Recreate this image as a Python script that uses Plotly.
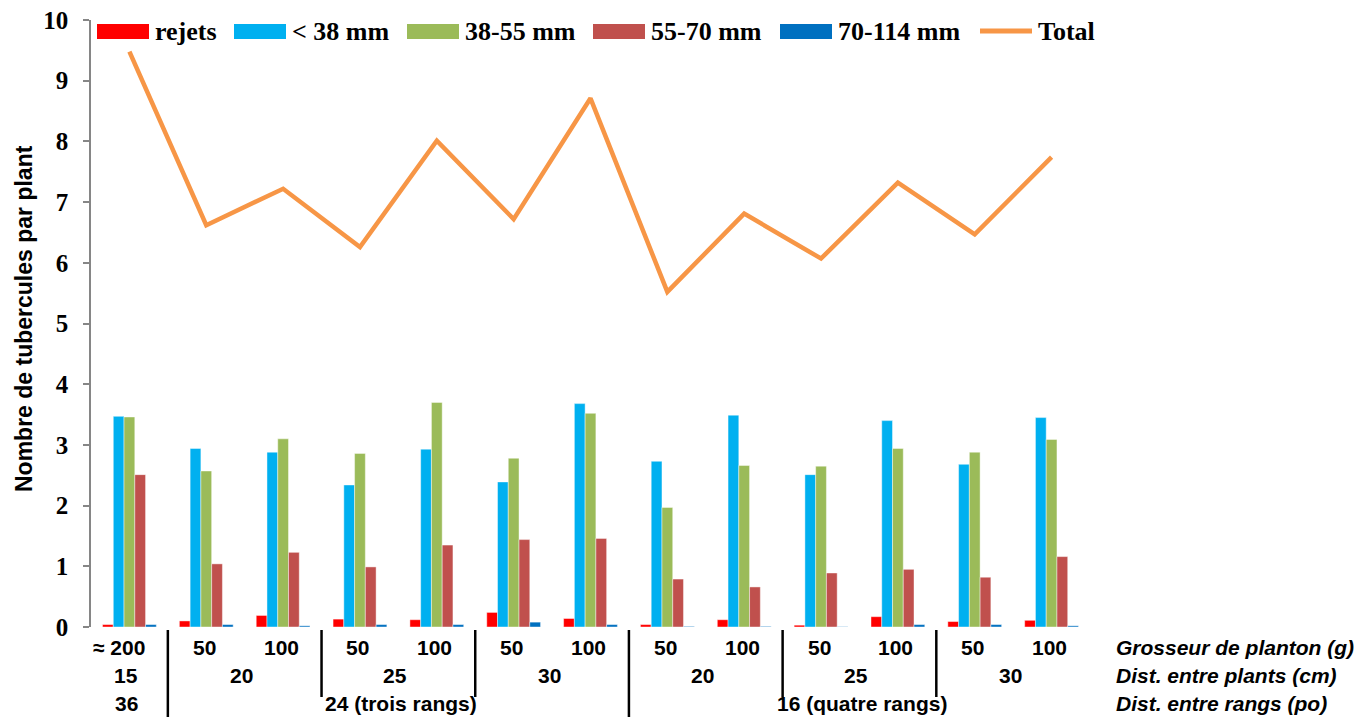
import plotly.graph_objects as go

# ---------------- data ----------------
planton = ["≈ 200", "50", "100", "50", "100", "50", "100", "50", "100", "50", "100", "50", "100"]
plants_labels = ["15", "20", "25", "30", "20", "25", "30"]
plants_spans = [(0, 0), (1, 2), (3, 4), (5, 6), (7, 8), (9, 10), (11, 12)]
rangs_labels = ["36", "24 (trois rangs)", "16 (quatre rangs)"]
rangs_spans = [(0, 0), (1, 6), (7, 12)]
row_titles = ["Grosseur de planton (g)", "Dist. entre plants (cm)", "Dist. entre rangs (po)"]
y_title = "Nombre de tubercules par plant"

series_names = ["rejets", "< 38 mm", "38-55 mm", "55-70 mm", "70-114 mm"]
rejets = [0.04, 0.10, 0.19, 0.13, 0.12, 0.24, 0.14, 0.04, 0.12, 0.03, 0.17, 0.09, 0.11]
lt38 = [3.47, 2.94, 2.88, 2.34, 2.93, 2.39, 3.68, 2.73, 3.49, 2.51, 3.40, 2.68, 3.45]
m38_55 = [3.46, 2.57, 3.10, 2.86, 3.70, 2.78, 3.52, 1.97, 2.66, 2.65, 2.94, 2.88, 3.09]
m55_70 = [2.51, 1.04, 1.23, 0.99, 1.35, 1.44, 1.46, 0.79, 0.66, 0.89, 0.95, 0.82, 1.16]
m70_114 = [0.04, 0.04, 0.02, 0.04, 0.04, 0.08, 0.04, 0.01, 0.01, 0.005, 0.04, 0.04, 0.02]
total_name = "Total"
total = [9.48, 6.62, 7.22, 6.26, 8.01, 6.72, 8.71, 5.52, 6.81, 6.07, 7.32, 6.47, 7.74]

colors = ["#FF0000", "#00B0F0", "#9BBB59", "#C0504D", "#0070C0"]
total_color = "#F79646"

# ---------------- layout geometry (page pixels) ----------------
PAGE_W, PAGE_H = 1372, 717
OFF = 8  # default body margin of the html page
L, T, R_EDGE, B_EDGE = 91, 20, 1090, 627
FIG_W, FIG_H = PAGE_W - OFF, PAGE_H - OFF


def px(x):
    return (x - L) / (R_EDGE - L)


def py(y):
    return (B_EDGE - y) / (B_EDGE - T)


x_idx = list(range(len(planton)))
sans = "Liberation Sans"
serif = "Liberation Serif"

fig = go.Figure()
for name, vals, col in zip(series_names, [rejets, lt38, m38_55, m55_70, m70_114], colors):
    fig.add_trace(go.Bar(x=x_idx, y=vals, name=name,
                         marker=dict(color=col, line=dict(width=0.8, color="rgba(255,255,255,0.55)")),
                         showlegend=False))
fig.add_trace(go.Scatter(x=x_idx, y=total, name=total_name, mode="lines",
                         line=dict(color=total_color, width=4.5), showlegend=False))

annotations = []
shapes = []

# category label rows
row_y = [py(647), py(675), py(703)]
lab_font = dict(family=sans, size=21, color="black", weight="bold")
for i, lab in enumerate(planton):
    annotations.append(dict(x=i, y=row_y[0], xref="x", yref="paper", text=lab, showarrow=False,
                            font=lab_font, xanchor="center", yanchor="middle",
                            xshift=-10 if i == 0 else -2))
for lab, (a, b) in zip(plants_labels, plants_spans):
    annotations.append(dict(x=(a + b) / 2, y=row_y[1], xref="x", yref="paper", text=lab, showarrow=False,
                            font=lab_font, xanchor="center", yanchor="middle", xshift=-3))
for lab, (a, b) in zip(rangs_labels, rangs_spans):
    annotations.append(dict(x=(a + b) / 2, y=row_y[2], xref="x", yref="paper", text=lab, showarrow=False,
                            font=lab_font, xanchor="center", yanchor="middle", xshift=3 if a > 0 else -3))
for t, yy in zip(row_titles, row_y):
    annotations.append(dict(x=px(1114), y=yy, xref="paper", yref="paper", text=t, showarrow=False,
                            font=dict(family=sans, size=21, color="black", weight="bold", style="italic"),
                            xanchor="left", yanchor="middle"))

# separators
for a, b in zip(plants_spans[:-1], plants_spans[1:]):
    xb = a[1] + 0.5
    major = any(s[0] == b[0] for s in rangs_spans)
    shapes.append(dict(type="line", xref="x", yref="paper", x0=xb, x1=xb,
                       y0=py(630), y1=py(717) if major else py(697),
                       line=dict(color="black", width=2.5)))

# y title
annotations.append(dict(x=px(24), y=py(319), xref="paper", yref="paper", text=y_title, textangle=-90,
                        showarrow=False, font=dict(family=sans, size=23, color="black", weight="bold"),
                        xanchor="center", yanchor="middle"))

# manual legend
leg_y0, leg_y1 = py(24), py(39)
leg_mid = py(31)
leg_font = dict(family=serif, size=26, color="black", weight="bold")
sw_x = [97, 234, 407, 593, 780]
for name, col, x0 in zip(series_names, colors, sw_x):
    shapes.append(dict(type="rect", xref="paper", yref="paper", x0=px(x0), x1=px(x0 + 52),
                       y0=leg_y0, y1=leg_y1, fillcolor=col, line=dict(width=0)))
    annotations.append(dict(x=px(x0 + 56), y=leg_mid, xref="paper", yref="paper", text=name, showarrow=False,
                            font=leg_font, xanchor="left", yanchor="middle"))
shapes.append(dict(type="line", xref="paper", yref="paper", x0=px(980), x1=px(1032), y0=leg_mid, y1=leg_mid,
                   line=dict(color=total_color, width=5)))
annotations.append(dict(x=px(1036), y=leg_mid, xref="paper", yref="paper", text=total_name, showarrow=False,
                        font=leg_font, xanchor="left", yanchor="middle"))

fig.update_layout(
    width=FIG_W, height=FIG_H,
    margin=dict(l=L - OFF, r=PAGE_W - R_EDGE, t=T - OFF, b=PAGE_H - B_EDGE, pad=0, autoexpand=False),
    paper_bgcolor="white", plot_bgcolor="white",
    barmode="group", bargap=0.3, bargroupgap=0,
    showlegend=False,
    annotations=annotations, shapes=shapes,
    xaxis=dict(range=[-0.5, len(planton) - 0.5], showticklabels=False, showgrid=False, zeroline=False,
               showline=False, ticks="", automargin=False),
    yaxis=dict(range=[0, 10], dtick=1, showgrid=False, zeroline=False, showline=True, linecolor="#868686",
               linewidth=1.5, ticks="outside", ticklen=6, tickcolor="#868686", tickwidth=1.5,
               ticklabelstandoff=10, ticklabeloverflow="allow", automargin=False,
               tickfont=dict(family=serif, size=25, color="black", weight="bold")),
)

fig.write_html("out.html")
